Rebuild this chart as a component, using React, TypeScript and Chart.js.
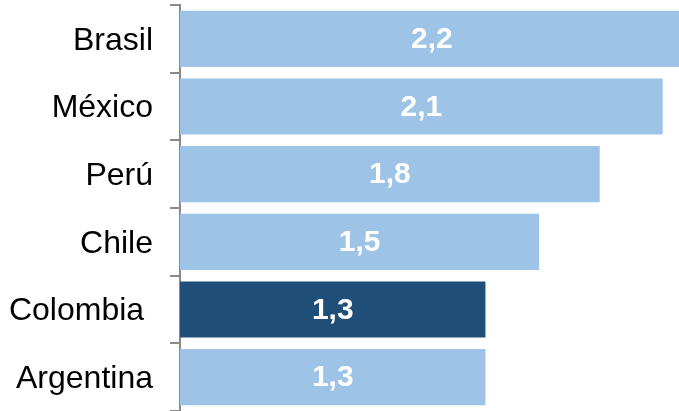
import React, { useEffect, useRef } from "react";
import { Chart, registerables } from "chart.js";

Chart.register(...registerables);

const categories = ["Brasil", "México", "Perú", "Chile", "Colombia ", "Argentina"];
const values = [2.16, 2.07, 1.8, 1.54, 1.31, 1.31];
const highlight = "Colombia ";

const LIGHT = "#9DC3E6";
const DARK = "#1F4E79";
const AXIS = "#898989";
const FONT = "'Liberation Sans', Arial, sans-serif";

const valueLabels = {
  id: "valueLabels",
  afterDatasetsDraw(chart: any) {
    const ctx = chart.ctx;
    const meta = chart.getDatasetMeta(0);
    ctx.save();
    ctx.fillStyle = "#FFFFFF";
    ctx.font = `bold 30px ${FONT}`;
    ctx.textAlign = "center";
    ctx.textBaseline = "middle";
    meta.data.forEach((bar: any, i: number) => {
      const cx = (bar.x + bar.base) / 2;
      const txt = values[i].toFixed(1).replace(".", ",");
      ctx.fillText(txt, cx, bar.y + 1);
    });
    ctx.restore();
  },
};

export default function App() {
  const ref = useRef<HTMLCanvasElement>(null);
  useEffect(() => {
    document.body.style.margin = "0";
    if (!ref.current) return;
    const chart = new Chart(ref.current, {
      type: "bar",
      data: {
        labels: categories,
        datasets: [
          {
            data: values,
            backgroundColor: categories.map((c) => (c === highlight ? DARK : LIGHT)),
            borderWidth: 0,
            barPercentage: 0.83,
            categoryPercentage: 1,
          },
        ],
      },
      options: {
        indexAxis: "y",
        animation: false,
        responsive: true,
        maintainAspectRatio: false,
        layout: { padding: { top: 5, bottom: 0, left: 0, right: 0 } },
        plugins: { legend: { display: false }, tooltip: { enabled: false } },
        scales: {
          x: { display: false, min: 0, max: 2.14 },
          y: {
            afterFit(scale: any) {
              scale.width = 180;
              scale.paddingTop = 0;
              scale.paddingBottom = 0;
            },
            border: { display: true, color: AXIS, width: 2 },
            grid: {
              offset: true,
              drawOnChartArea: false,
              drawTicks: true,
              tickLength: 10,
              color: AXIS,
              lineWidth: 2,
            },
            ticks: {
              color: "#000000",
              padding: 17,
              labelOffset: 2,
              font: { family: FONT, size: 32 },
            },
          },
        },
      },
      plugins: [valueLabels],
    });
    return () => chart.destroy();
  }, []);
  return (
    <div style={{ width: 679, height: 411, position: "relative" }}>
      <canvas ref={ref} />
    </div>
  );
}
